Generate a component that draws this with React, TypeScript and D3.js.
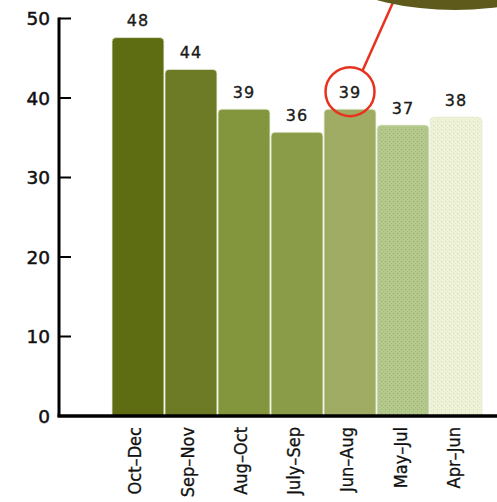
import React from "react";
import * as d3 from "d3";

const categories = ["Oct–Dec", "Sep–Nov", "Aug–Oct", "July–Sep", "Jun–Aug", "May–Jul", "Apr–Jun"];
const values = [47.6, 43.6, 38.6, 35.7, 38.6, 36.6, 37.6];
const labels = ["48", "44", "39", "36", "39", "37", "38"];
const yTicks = [0, 10, 20, 30, 40, 50];
const barColors = ["#5b6e10", "#6b7d24", "#82983c", "#8d9a48", "#9dad63", "#b5c88c", "#eef2d6"];
const dotColors = ["#8a4a2a", "#8a5a2a", "#9a6a48", "#6ab040", "#c09060", "#8aa870", "#c8d8a8"];
const highlightIndex = 4;

const W = 497;
const H = 502;

export default function App() {
  const x = d3.scaleBand<string>().domain(categories).range([112, 482]).paddingInner(0.02).paddingOuter(0);
  const y = d3.scaleLinear().domain([0, 50]).range([416, 18.5]);
  const r = 4;

  const barPath = (i: number) => {
    const x0 = x(categories[i])!;
    const w = x.bandwidth();
    const y0 = y(values[i]);
    const yb = y(0);
    const p = d3.path();
    p.moveTo(x0, yb);
    p.lineTo(x0, y0 + r);
    p.arcTo(x0, y0, x0 + r, y0, r);
    p.lineTo(x0 + w - r, y0);
    p.arcTo(x0 + w, y0, x0 + w, y0 + r, r);
    p.lineTo(x0 + w, yb);
    p.closePath();
    return p.toString();
  };

  const hx = x(categories[highlightIndex])! + x.bandwidth() / 2;
  const hy = y(values[highlightIndex]) - 17.5;
  const cr = 24.5;
  const ang = Math.atan2(-21.7, 13);
  const lx1 = hx + cr * Math.cos(ang);
  const ly1 = hy + cr * Math.sin(ang);

  return (
    <svg width={W} height={H} style={{ position: "absolute", left: 0, top: 0, background: "#fff" }}>
      <defs>
        {barColors.map((c, i) => (
          <pattern key={i} id={`pat${i}`} width={4} height={4} patternUnits="userSpaceOnUse">
            <rect width={4} height={4} fill={c} />
            <rect x={1} y={1} width={1} height={1} fill={dotColors[i]} opacity={0.7} />
            <rect x={3} y={3} width={1} height={1} fill={dotColors[i]} opacity={0.35} />
          </pattern>
        ))}
      </defs>

      {categories.map((c, i) => (
        <path key={c} d={barPath(i)} fill={`url(#pat${i})`} stroke="#e8eedc" strokeWidth={0.8} />
      ))}

      {categories.map((c, i) => (
        <text
          key={`l${c}`}
          x={x(c)! + x.bandwidth() / 2}
          y={y(values[i]) - 11.5}
          textAnchor="middle"
          fontFamily="DejaVu Sans, sans-serif"
          fontSize={16}
          letterSpacing={1}
          fill="#1a1a1a"
          stroke="#1a1a1a"
          strokeWidth={0.35}
        >
          {labels[i]}
        </text>
      ))}

      {/* y axis */}
      <line x1={59} x2={59} y1={y(50) - 1} y2={y(0) + 1} stroke="#000" strokeWidth={3} />
      {yTicks.map((t) => (
        <g key={t}>
          <line x1={59} x2={71} y1={y(t)} y2={y(t)} stroke="#000" strokeWidth={2} />
          <text
            x={50}
            y={y(t)}
            dy="0.36em"
            textAnchor="end"
            fontFamily="DejaVu Sans, sans-serif"
            fontSize={18.5}
            fill="#111"
            stroke="#111"
            strokeWidth={0.5}
          >
            {t}
          </text>
        </g>
      ))}
      {/* x axis */}
      <line x1={57.5} x2={W} y1={y(0)} y2={y(0)} stroke="#000" strokeWidth={3.5} />

      {categories.map((c) => {
        const cx = x(c)! + x.bandwidth() / 2 - 3;
        const ty = 427;
        return (
          <text
            key={`x${c}`}
            transform={`translate(${cx},${ty}) rotate(-90)`}
            textAnchor="end"
            dy="0.36em"
            fontFamily="DejaVu Sans Condensed, DejaVu Sans, sans-serif"
            fontSize={18}
            fill="#111"
            stroke="#111"
            strokeWidth={0.3}
          >
            {c}
          </text>
        );
      })}

      {/* annotation */}
      <line x1={lx1} y1={ly1} x2={lx1 + 0.446 * (ly1 + 12)} y2={-12} stroke="#e8321f" strokeWidth={2.5} />
      <circle cx={hx} cy={hy} r={cr} fill="none" stroke="#e8321f" strokeWidth={2.5} />
      <ellipse cx={455} cy={-90} rx={180} ry={100} fill="#5e5a1c" />
    </svg>
  );
}
